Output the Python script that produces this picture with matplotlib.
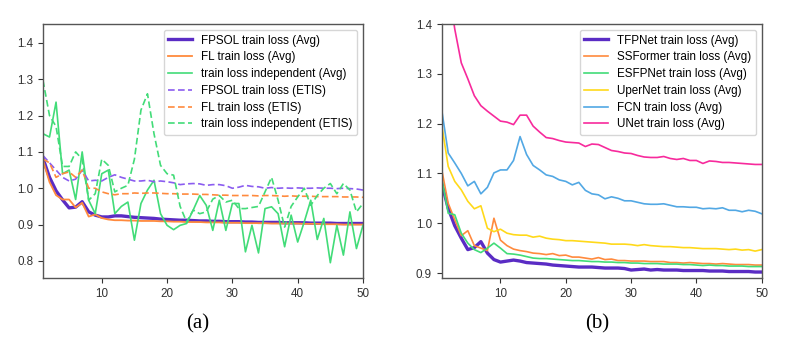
import matplotlib
matplotlib.use("Agg")
import matplotlib.pyplot as plt

plt.rcParams['font.family'] = ['Liberation Sans', 'DejaVu Sans']

epochs = list(range(1, 51))

# ---- panel (a) ----
fpsol_avg = [1.082, 1.03, 0.993, 0.968, 0.946, 0.948, 0.963, 0.935, 0.926, 0.921,
             0.921, 0.924, 0.924, 0.922, 0.920, 0.919, 0.918, 0.917, 0.915, 0.914,
             0.913, 0.912, 0.912, 0.911, 0.910, 0.910, 0.909, 0.909, 0.908, 0.908,
             0.908, 0.907, 0.907, 0.906, 0.906, 0.906, 0.906, 0.905, 0.905, 0.905,
             0.905, 0.904, 0.904, 0.904, 0.904, 0.903, 0.903, 0.903, 0.903, 0.903]
fl_avg = [1.077, 1.017, 0.981, 0.969, 0.969, 0.947, 0.960, 0.922, 0.928, 0.918,
          0.914, 0.912, 0.912, 0.911, 0.911, 0.910, 0.910, 0.910, 0.909, 0.909,
          0.908, 0.908, 0.907, 0.907, 0.907, 0.906, 0.906, 0.906, 0.905, 0.905,
          0.905, 0.904, 0.904, 0.904, 0.904, 0.903, 0.903, 0.903, 0.903, 0.903,
          0.902, 0.902, 0.902, 0.901, 0.901, 0.901, 0.900, 0.900, 0.900, 0.900]
indep_avg = [1.150, 1.141, 1.237, 1.040, 1.050, 0.969, 1.100, 0.967, 0.930, 1.040,
             1.050, 0.930, 0.950, 0.962, 0.857, 0.958, 0.995, 1.022, 0.930, 0.898,
             0.886, 0.898, 0.903, 0.940, 0.980, 0.953, 0.884, 0.967, 0.884, 0.958,
             0.958, 0.825, 0.898, 0.822, 0.944, 0.949, 0.930, 0.839, 0.926, 0.852,
             0.907, 0.967, 0.859, 0.917, 0.795, 0.898, 0.816, 0.935, 0.834, 0.898]
fpsol_etis = [1.090, 1.070, 1.050, 1.030, 1.020, 1.025, 1.050, 1.020, 1.022, 1.020,
              1.030, 1.037, 1.030, 1.025, 1.020, 1.020, 1.022, 1.018, 1.020, 1.018,
              1.015, 1.010, 1.012, 1.013, 1.012, 1.008, 1.010, 1.010, 1.007, 1.000,
              1.003, 1.008, 1.005, 1.004, 1.000, 1.002, 1.000, 1.001, 1.000, 1.001,
              1.000, 1.000, 1.001, 1.000, 1.000, 0.999, 1.000, 0.999, 0.998, 0.995]
fl_etis = [1.080, 1.070, 1.030, 1.040, 1.045, 1.030, 1.050, 1.000, 1.000, 0.990,
           0.985, 0.982, 0.985, 0.985, 0.987, 0.986, 0.987, 0.987, 0.986, 0.985,
           0.985, 0.984, 0.984, 0.984, 0.983, 0.983, 0.982, 0.981, 0.981, 0.980,
           0.980, 0.980, 0.980, 0.979, 0.980, 0.980, 0.979, 0.978, 0.979, 0.978,
           0.978, 0.978, 0.977, 0.977, 0.977, 0.977, 0.976, 0.976, 0.976, 0.975]
indep_etis = [1.297, 1.200, 1.170, 1.060, 1.060, 1.100, 1.080, 0.967, 0.985, 1.080,
              1.063, 0.990, 1.000, 1.008, 1.080, 1.215, 1.260, 1.150, 1.063, 1.040,
              1.036, 0.950, 0.907, 0.940, 0.930, 0.935, 0.970, 0.980, 0.962, 0.967,
              0.944, 0.944, 0.947, 0.950, 0.990, 1.030, 0.967, 0.893, 0.950, 0.976,
              1.000, 0.953, 0.980, 1.000, 1.013, 0.985, 1.013, 0.995, 0.935, 0.958]

# ---- panel (b) ----
tfpnet = [1.080, 1.030, 0.995, 0.970, 0.947, 0.951, 0.963, 0.940, 0.927, 0.922,
          0.924, 0.926, 0.924, 0.921, 0.920, 0.919, 0.918, 0.916, 0.915, 0.914,
          0.913, 0.912, 0.912, 0.912, 0.911, 0.910, 0.910, 0.910, 0.909, 0.906,
          0.907, 0.908, 0.906, 0.907, 0.906, 0.906, 0.906, 0.905, 0.905, 0.905,
          0.905, 0.904, 0.904, 0.904, 0.903, 0.903, 0.903, 0.903, 0.902, 0.902]
ssformer = [1.108, 1.040, 1.007, 0.975, 0.985, 0.955, 0.950, 0.945, 1.010, 0.966,
            0.955, 0.948, 0.945, 0.943, 0.940, 0.939, 0.937, 0.939, 0.935, 0.936,
            0.932, 0.932, 0.930, 0.928, 0.931, 0.927, 0.928, 0.925, 0.925, 0.924,
            0.924, 0.924, 0.923, 0.923, 0.923, 0.921, 0.921, 0.920, 0.921, 0.920,
            0.919, 0.919, 0.918, 0.919, 0.918, 0.917, 0.917, 0.917, 0.916, 0.916]
esfpnet = [1.090, 1.020, 1.017, 0.980, 0.960, 0.947, 0.941, 0.950, 0.960, 0.950,
           0.939, 0.938, 0.936, 0.933, 0.930, 0.929, 0.929, 0.928, 0.927, 0.926,
           0.925, 0.925, 0.924, 0.923, 0.923, 0.922, 0.922, 0.921, 0.921, 0.920,
           0.920, 0.919, 0.919, 0.919, 0.918, 0.918, 0.918, 0.917, 0.917, 0.916,
           0.915, 0.916, 0.915, 0.915, 0.914, 0.914, 0.914, 0.913, 0.913, 0.913]
upernet = [1.198, 1.114, 1.084, 1.067, 1.044, 1.029, 1.035, 0.990, 0.983, 0.988,
           0.980, 0.977, 0.976, 0.976, 0.972, 0.974, 0.970, 0.968, 0.967, 0.965,
           0.965, 0.964, 0.963, 0.962, 0.961, 0.960, 0.958, 0.958, 0.958, 0.957,
           0.955, 0.957, 0.955, 0.954, 0.953, 0.953, 0.952, 0.951, 0.951, 0.950,
           0.949, 0.949, 0.949, 0.948, 0.947, 0.948, 0.946, 0.947, 0.944, 0.947]
fcn = [1.228, 1.141, 1.121, 1.100, 1.075, 1.084, 1.059, 1.072, 1.101, 1.107,
       1.107, 1.126, 1.174, 1.138, 1.116, 1.107, 1.097, 1.094, 1.087, 1.084,
       1.077, 1.082, 1.066, 1.059, 1.057, 1.049, 1.053, 1.050, 1.045, 1.045,
       1.042, 1.039, 1.038, 1.038, 1.039, 1.036, 1.033, 1.033, 1.032, 1.032,
       1.029, 1.030, 1.029, 1.031, 1.026, 1.026, 1.023, 1.026, 1.024, 1.019]
unet = [1.600, 1.480, 1.390, 1.322, 1.290, 1.256, 1.236, 1.225, 1.215, 1.205,
        1.203, 1.198, 1.217, 1.217, 1.195, 1.183, 1.172, 1.170, 1.166, 1.163,
        1.162, 1.161, 1.154, 1.159, 1.158, 1.152, 1.146, 1.144, 1.141, 1.140,
        1.136, 1.133, 1.132, 1.132, 1.134, 1.130, 1.128, 1.130, 1.126, 1.126,
        1.120, 1.125, 1.124, 1.122, 1.122, 1.121, 1.120, 1.119, 1.118, 1.118]

purple = "#5a2cc4"
purple_l = "#8b5cf0"
orange = "#ff8a3d"
green = "#42dc78"
yellow = "#ffd91a"
blue = "#52a8e4"
pink = "#f72a9c"

fig = plt.figure(figsize=(7.99, 3.43), dpi=100)
ax1 = fig.add_axes([0.0538, 0.1895, 0.4005, 0.7405])
ax2 = fig.add_axes([0.5528, 0.1895, 0.4005, 0.7405])

ax1.plot(epochs, fpsol_avg, color=purple, lw=2.4, label="FPSOL train loss (Avg)")
ax1.plot(epochs, fl_avg, color=orange, lw=1.3, label="FL train loss (Avg)")
ax1.plot(epochs, indep_avg, color=green, lw=1.2, label="train loss independent (Avg)")
ax1.plot(epochs, fpsol_etis, color=purple_l, lw=1.2, ls=(0, (4, 2)), label="FPSOL train loss (ETIS)")
ax1.plot(epochs, fl_etis, color=orange, lw=1.2, ls=(0, (4, 2)), label="FL train loss (ETIS)")
ax1.plot(epochs, indep_etis, color=green, lw=1.2, ls=(0, (4, 2)), label="train loss independent (ETIS)")
ax1.set_ylim(0.753, 1.452)
ax1.set_yticks([0.8, 0.9, 1.0, 1.1, 1.2, 1.3, 1.4])

ax2.plot(epochs, tfpnet, color=purple, lw=2.4, label="TFPNet train loss (Avg)")
ax2.plot(epochs, ssformer, color=orange, lw=1.2, label="SSFormer train loss (Avg)")
ax2.plot(epochs, esfpnet, color=green, lw=1.2, label="ESFPNet train loss (Avg)")
ax2.plot(epochs, upernet, color=yellow, lw=1.2, label="UperNet train loss (Avg)")
ax2.plot(epochs, fcn, color=blue, lw=1.2, label="FCN train loss (Avg)")
ax2.plot(epochs, unet, color=pink, lw=1.2, label="UNet train loss (Avg)")
ax2.set_ylim(0.89, 1.4)
ax2.set_yticks([0.9, 1.0, 1.1, 1.2, 1.3, 1.4])

for ax in (ax1, ax2):
    ax.set_xlim(1, 50)
    ax.set_xticks([10, 20, 30, 40, 50])
    ax.tick_params(labelsize=8.4, colors="#333333", length=3.5, width=0.8)
    for sp in ax.spines.values():
        sp.set_color("#555555")
        sp.set_linewidth(1.0)
    leg = ax.legend(loc="upper right", fontsize=8.4, labelspacing=0.41)
    leg.get_frame().set_edgecolor("#cccccc")

fig.text(0.248, 0.055, "(a)", ha="center", va="center", fontsize=15,
         family=["Liberation Serif", "DejaVu Serif"])
fig.text(0.747, 0.055, "(b)", ha="center", va="center", fontsize=15,
         family=["Liberation Serif", "DejaVu Serif"])

fig.savefig("out.png", dpi=100)
